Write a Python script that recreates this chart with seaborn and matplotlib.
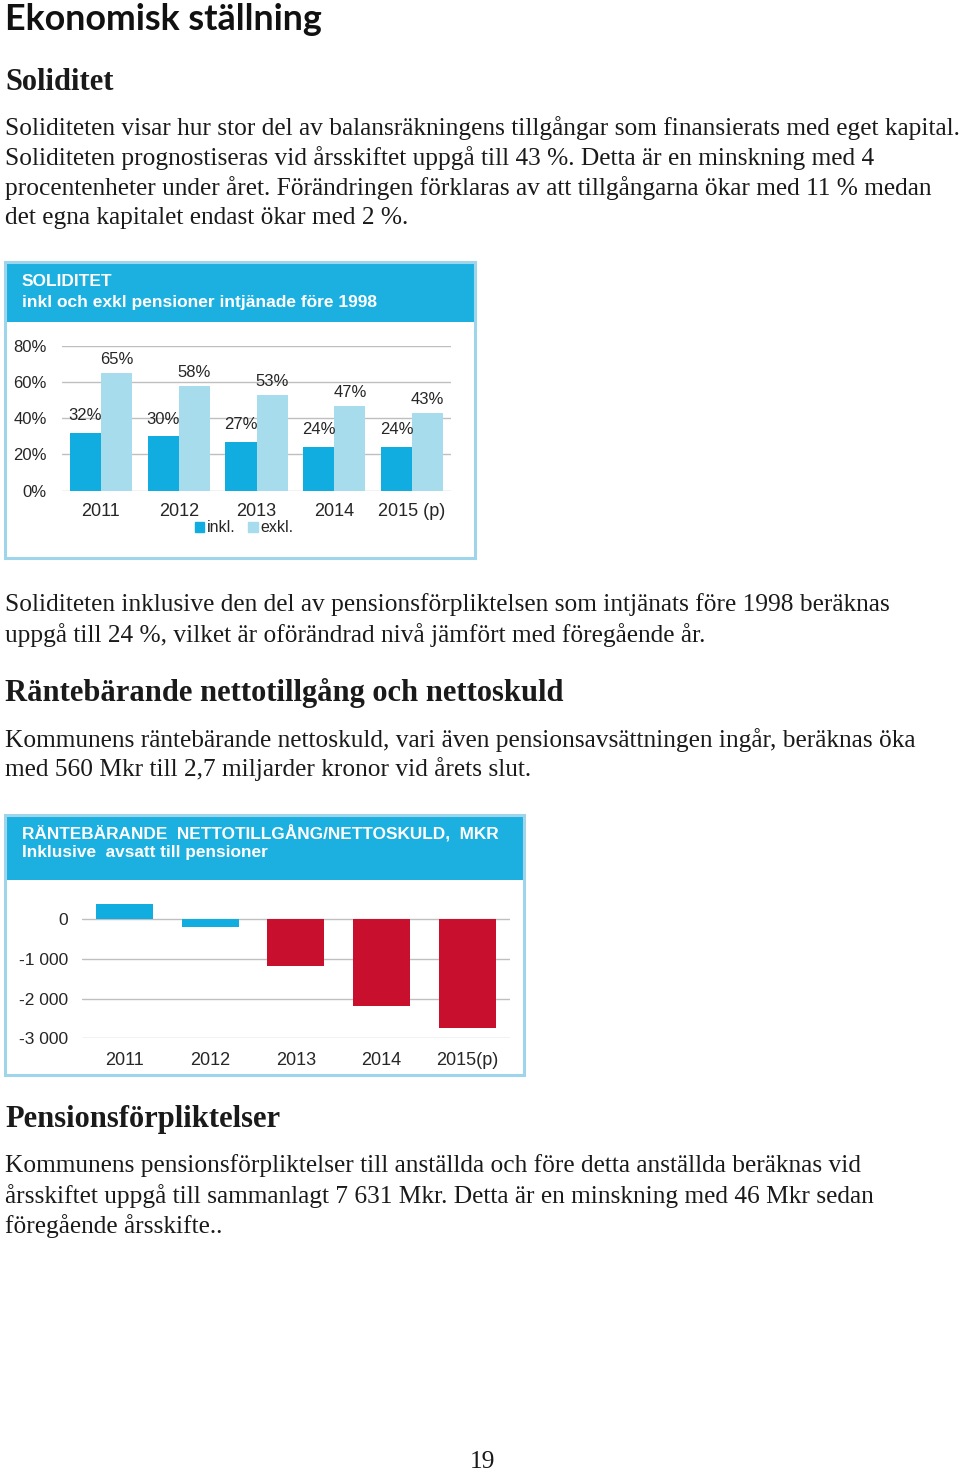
import numpy as np
import pandas as pd
import matplotlib
matplotlib.use("Agg")
import matplotlib.pyplot as plt
import seaborn as sns
from matplotlib.patches import Rectangle, Patch

# data
years1 = ["2011", "2012", "2013", "2014", "2015 (p)"]
inkl = [32, 30, 27, 24, 24]
exkl = [65, 58, 53, 47, 43]

years2 = ["2011", "2012", "2013", "2014", "2015(p)"]
netto = [380, -190, -1165, -2190, -2750]

c_head = "#1cb0e1"
c_inkl = "#12ade0"
c_exkl = "#a7dcec"
c_red = "#c8102e"
c_frame = "#9fd5ea"
c_grid = "#bfbfbf"

sns.set_theme(style="white")
plt.rcParams["font.family"] = ["Liberation Sans", "DejaVu Sans"]

W, H = 960, 1473
fig = plt.figure(figsize=(W / 100, H / 100), dpi=100)
fig.patch.set_facecolor("white")


def fx(x):
    return x / W


def fy(y):
    return 1 - y / H


def axes_px(x0, y0, x1, y1):
    return fig.add_axes([fx(x0), fy(y1), (x1 - x0) / W, (y1 - y0) / H])


def txt(x, y, s, **kw):
    kw.setdefault("va", "center")
    fig.text(fx(x), fy(y), s, **kw)


def box(x0, y0, x1, y1, yh):
    fig.patches.append(Rectangle((fx(x0), fy(yh)), (x1 - x0) / W, (yh - y0) / H,
                                 transform=fig.transFigure, facecolor=c_head,
                                 edgecolor="none", zorder=0))
    fig.patches.append(Rectangle((fx(x0), fy(y1)), (x1 - x0) / W, (y1 - y0) / H,
                                 transform=fig.transFigure, facecolor="none",
                                 edgecolor=c_frame, lw=2.2, zorder=1))


serif = dict(family="Liberation Serif", color="#1a1a1a")
body = dict(fontsize=18.3, **serif)
h2 = dict(fontsize=22, fontweight="bold", **serif)

# page text
txt(5, 30, "Ekonomisk ställning", va="baseline", fontsize=25.8, fontweight="bold",
    family="Lato", color="#111111")
txt(5, 82, "Soliditet", **h2)
lines1 = [
    "Soliditeten visar hur stor del av balansräkningens tillgångar som finansierats med eget kapital.",
    "Soliditeten prognostiseras vid årsskiftet uppgå till 43 %. Detta är en minskning med 4",
    "procentenheter under året. Förändringen förklaras av att tillgångarna ökar med 11 % medan",
    "det egna kapitalet endast ökar med 2 %.",
]
for i, s in enumerate(lines1):
    txt(5, 128 + 30 * i, s, **body)

txt(5, 605, "Soliditeten inklusive den del av pensionsförpliktelsen som intjänats före 1998 beräknas", **body)
txt(5, 635, "uppgå till 24 %, vilket är oförändrad nivå jämfört med föregående år.", **body)
txt(5, 693, "Räntebärande nettotillgång och nettoskuld", **h2)
txt(5, 740, "Kommunens räntebärande nettoskuld, vari även pensionsavsättningen ingår, beräknas öka", **body)
txt(5, 769, "med 560 Mkr till 2,7 miljarder kronor vid årets slut.", **body)
txt(5, 1120, "Pensionsförpliktelser", **h2)
txt(5, 1166, "Kommunens pensionsförpliktelser till anställda och före detta anställda beräknas vid", **body)
txt(5, 1196, "årsskiftet uppgå till sammanlagt 7 631 Mkr. Detta är en minskning med 46 Mkr sedan", **body)
txt(5, 1226, "föregående årsskifte..", **body)
txt(482, 1462, "19", ha="center", **body)

# chart 1: soliditet
box(5, 262, 475, 558, 322)
txt(22, 282, "SOLIDITET", fontsize=12.5, fontweight="bold", color="white")
txt(22, 302, "inkl och exkl pensioner intjänade före 1998", fontsize=12.5, fontweight="bold", color="white")

df1 = pd.DataFrame({"year": years1 * 2, "value": inkl + exkl,
                    "typ": ["inkl."] * 5 + ["exkl."] * 5})
ax1 = axes_px(62, 345.7, 451, 490.7)
sns.barplot(data=df1, x="year", y="value", hue="typ", palette=[c_inkl, c_exkl],
            width=0.8, saturation=1, errorbar=None, linewidth=0, legend=False, ax=ax1)
ax1.set_ylim(0, 80)
ax1.set_xlim(-0.5, 4.5)
ax1.set_yticks([0, 20, 40, 60, 80])
ax1.set_yticklabels([f"{v}%" for v in [0, 20, 40, 60, 80]])
ax1.yaxis.grid(True, color=c_grid, lw=1)
ax1.set_axisbelow(True)
for sp in ax1.spines.values():
    sp.set_visible(False)
ax1.tick_params(axis="y", length=0, pad=11, labelsize=12, labelcolor="#262626")
ax1.tick_params(axis="x", length=0, pad=9, labelsize=13, labelcolor="#262626")
ax1.set_xlabel("")
ax1.set_ylabel("")
for cont, pad in zip(ax1.containers, [7, 4]):
    ax1.bar_label(cont, fmt="%d%%", padding=pad, fontsize=12, color="#262626")
fig.legend(handles=[Patch(color=c_inkl, label="inkl."), Patch(color=c_exkl, label="exkl.")],
           loc="center", bbox_to_anchor=(fx(244), fy(528)), ncol=2, frameon=False,
           handlelength=0.6, handleheight=0.6, handletextpad=0.15, columnspacing=0.8,
           fontsize=11.5, labelcolor="#262626")

# chart 2: räntebärande nettotillgång/nettoskuld
box(5, 815, 524, 1075, 880)
txt(22, 833, "RÄNTEBÄRANDE  NETTOTILLGÅNG/NETTOSKULD,  MKR", fontsize=12.4,
    fontweight="bold", color="white")
txt(22, 853, "Inklusive  avsatt till pensioner", fontsize=12.4, fontweight="bold", color="white")

colors2 = [c_inkl, c_inkl, c_red, c_red, c_red]
ax2 = axes_px(81.7, 899.5, 510, 1038.3)
sns.barplot(x=years2, y=netto, hue=years2, palette=colors2, width=0.667, saturation=1,
            linewidth=0, legend=False, ax=ax2)
ax2.set_ylim(-3000, 500)
ax2.set_xlim(-0.5, 4.5)
ax2.set_yticks([0, -1000, -2000, -3000])
ax2.set_yticklabels(["0", "-1 000", "-2 000", "-3 000"])
ax2.yaxis.grid(True, color=c_grid, lw=1)
ax2.set_axisbelow(True)
for sp in ax2.spines.values():
    sp.set_visible(False)
ax2.tick_params(axis="y", length=0, pad=10, labelsize=12.5, labelcolor="#262626")
ax2.tick_params(axis="x", length=0, pad=10, labelsize=13, labelcolor="#262626")

fig.savefig("out.png", dpi=100)
